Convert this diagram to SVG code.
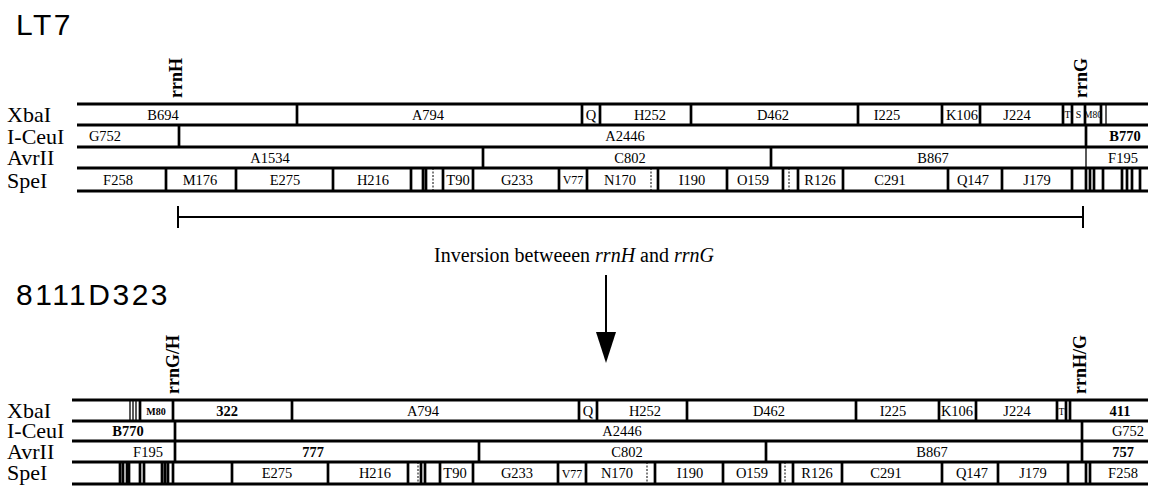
<svg xmlns="http://www.w3.org/2000/svg" width="1152" height="487" viewBox="0 0 1152 487">
<style>
.bg{fill:#fff}
.h{stroke:#000;stroke-width:3.2;fill:none}
.v{stroke:#000;stroke-width:2.7;fill:none}
.t{stroke:#000;stroke-width:1.3;fill:none}
.d{stroke:#000;stroke-width:1;fill:none;stroke-dasharray:2 1.5}
.lb{font-family:"Liberation Serif","Times New Roman",serif;font-size:14.5px;text-anchor:middle;fill:#000}
.sm{font-size:10px}
.xs{font-size:9.5px}
.b{font-weight:bold}
.rl{font-family:"Liberation Serif","Times New Roman",serif;font-size:22px;fill:#000}
.rrn{font-family:"Liberation Serif","Times New Roman",serif;font-size:18px;font-weight:bold;fill:#000}
.ttl{font-family:"Liberation Sans",Arial,sans-serif;font-size:30px;letter-spacing:2.5px;fill:#000}
.cap{font-family:"Liberation Serif","Times New Roman",serif;font-size:20px;text-anchor:middle;fill:#000}
</style>
<rect class="bg" x="0" y="0" width="1152" height="487"/>

<g id="title-LT7"><text class="ttl" x="16" y="35">LT7</text></g>
<g id="title-8111D323"><text class="ttl" x="16" y="305">8111D323</text></g>

<!-- Top map: LT7 -->
<g id="map-LT7">
  <g id="lt7-labels">
    <text class="rl" x="7" y="122">XbaI</text>
    <text class="rl" x="7" y="144">I-CeuI</text>
    <text class="rl" x="7" y="165">AvrII</text>
    <text class="rl" x="7" y="188">SpeI</text>
    <text class="rrn" transform="translate(182,98) rotate(-90)">rrnH</text>
    <text class="rrn" transform="translate(1087,98) rotate(-90)">rrnG</text>
  </g>
  <path class="h" d="M77 104H1148M77 125H1148M77 147H1148M77 168H1148M77 191H1148"/>
  <g id="lt7-xbai">
    <path class="v" d="M297 104V125M582 104V125M600 104V125M691 104V125M858 104V125M942 104V125M980 104V125M1063 104V125M1072 104V125M1085 104V125M1101 104V125"/>
    <path class="t" d="M1106 104V125"/>
    <text class="lb" x="163" y="119.5">B694</text>
    <text class="lb" x="428" y="119.5">A794</text>
    <text class="lb" x="591" y="119.5">Q</text>
    <text class="lb" x="650" y="119.5">H252</text>
    <text class="lb" x="773" y="119.5">D462</text>
    <text class="lb" x="887" y="119.5">I225</text>
    <text class="lb" x="962" y="119.5">K106</text>
    <text class="lb" x="1017" y="119.5">J224</text>
    <text class="lb sm" x="1067.5" y="118">T</text>
    <text class="lb sm" x="1078.5" y="118">S</text>
    <text class="lb xs" x="1093" y="118">M80</text>
  </g>
  <g id="lt7-iceui">
    <path class="v" d="M179 125V147M1086 125V147"/>
    <text class="lb" x="105" y="141">G752</text>
    <text class="lb" x="625" y="141">A2446</text>
    <text class="lb b" x="1125" y="141">B770</text>
  </g>
  <g id="lt7-avrii">
    <path class="v" d="M483 147V168M771 147V168"/>
    <path class="t" d="M1086 147V168"/>
    <text class="lb" x="270" y="162.5">A1534</text>
    <text class="lb" x="630" y="162.5">C802</text>
    <text class="lb" x="933" y="162.5">B867</text>
    <text class="lb" x="1123" y="162.5">F195</text>
  </g>
  <g id="lt7-spei">
    <path class="v" d="M166 168V191M236 168V191M333 168V191M411 168V191M423 168V191M426 168V191M443 168V191M473 168V191M559 168V191M587 168V191M658 168V191M727 168V191M783 168V191M798 168V191M843 168V191M948 168V191M1002 168V191M1072 168V191M1086 168V191M1090 168V191M1094 168V191M1103 168V191M1122 168V191M1127 168V191M1132 168V191M1140 168V191"/>
    <path class="d" d="M433 168V191M651 168V191M789 168V191"/>
    <text class="lb" x="118" y="184.5">F258</text>
    <text class="lb" x="200" y="184.5">M176</text>
    <text class="lb" x="285" y="184.5">E275</text>
    <text class="lb" x="373" y="184.5">H216</text>
    <text class="lb" x="458" y="184.5">T90</text>
    <text class="lb" x="517" y="184.5">G233</text>
    <text class="lb" x="573" y="184" style="font-size:12px">V77</text>
    <text class="lb" x="620" y="184.5">N170</text>
    <text class="lb" x="692" y="184.5">I190</text>
    <text class="lb" x="753" y="184.5">O159</text>
    <text class="lb" x="820" y="184.5">R126</text>
    <text class="lb" x="890" y="184.5">C291</text>
    <text class="lb" x="973" y="184.5">Q147</text>
    <text class="lb" x="1037" y="184.5">J179</text>
  </g>
</g>

<!-- Connectors: inversion bar and arrow -->
<g id="connectors">
  <path class="v" d="M178 217H1083" style="stroke-width:2"/>
  <path class="v" d="M178 206V228M1083 206V228" style="stroke-width:2"/>
  <path class="v" d="M606 275V336" style="stroke-width:2"/>
  <polygon points="596,332 616,332 606,363" fill="#000"/>
</g>
<g id="caption">
  <text class="cap" x="574" y="262">Inversion betweeen <tspan font-style="italic">rrnH</tspan> and <tspan font-style="italic">rrnG</tspan></text>
</g>

<!-- Bottom map: 8111D323 -->
<g id="map-8111D323">
  <g id="m8-labels">
    <text class="rl" x="7" y="418">XbaI</text>
    <text class="rl" x="7" y="438">I-CeuI</text>
    <text class="rl" x="7" y="459">AvrII</text>
    <text class="rl" x="7" y="480">SpeI</text>
    <text class="rrn" transform="translate(179,394) rotate(-90)">rrnG/H</text>
    <text class="rrn" transform="translate(1086,394) rotate(-90)">rrnH/G</text>
  </g>
  <path class="h" d="M72 400H1148M72 421H1148M72 441H1148M72 462H1148M72 484H1148"/>
  <g id="m8-xbai">
    <path class="t" d="M130 400V421M133 400V421M136 400V421"/>
    <path class="v" d="M140 400V421M173 400V421M292 400V421M579 400V421M597 400V421M687 400V421M856 400V421M939 400V421M976 400V421M1057 400V421M1066 400V421M1070 400V421"/>
    <text class="lb sm b" x="156" y="415">M80</text>
    <text class="lb b" x="227" y="415.5">322</text>
    <text class="lb" x="423" y="415.5">A794</text>
    <text class="lb" x="588" y="415.5">Q</text>
    <text class="lb" x="645" y="415.5">H252</text>
    <text class="lb" x="769" y="415.5">D462</text>
    <text class="lb" x="893" y="415.5">I225</text>
    <text class="lb" x="957" y="415.5">K106</text>
    <text class="lb" x="1017" y="415.5">J224</text>
    <text class="lb sm" x="1061.5" y="415">T</text>
    <text class="lb b" x="1120" y="415.5">411</text>
  </g>
  <g id="m8-iceui">
    <path class="v" d="M175 421V441M1082 421V441"/>
    <text class="lb b" x="128" y="436">B770</text>
    <text class="lb" x="622" y="436">A2446</text>
    <text class="lb" x="1128" y="436">G752</text>
  </g>
  <g id="m8-avrii">
    <path class="v" d="M175 441V462M479 441V462M766 441V462M1082 441V462"/>
    <text class="lb" x="148" y="456.5">F195</text>
    <text class="lb b" x="313" y="456.5">777</text>
    <text class="lb" x="627" y="456.5">C802</text>
    <text class="lb" x="932" y="456.5">B867</text>
    <text class="lb b" x="1123" y="456.5">757</text>
  </g>
  <g id="m8-spei">
    <path class="v" d="M120 462V484M123 462V484M127 462V484M129 462V484M140 462V484M144 462V484M162 462V484M165 462V484M168 462V484M173 462V484M232 462V484M328 462V484M408 462V484M421 462V484M425 462V484M440 462V484M473 462V484M558 462V484M586 462V484M655 462V484M723 462V484M780 462V484M793 462V484M842 462V484M942 462V484M998 462V484M1068 462V484M1086 462V484M1090 462V484"/>
    <path class="d" d="M418 462V484M647 462V484M785 462V484"/>
    <text class="lb" x="277" y="478">E275</text>
    <text class="lb" x="375" y="478">H216</text>
    <text class="lb" x="455" y="478">T90</text>
    <text class="lb" x="517" y="478">G233</text>
    <text class="lb" x="572" y="477.5" style="font-size:12px">V77</text>
    <text class="lb" x="617" y="478">N170</text>
    <text class="lb" x="690" y="478">I190</text>
    <text class="lb" x="752" y="478">O159</text>
    <text class="lb" x="817" y="478">R126</text>
    <text class="lb" x="886" y="478">C291</text>
    <text class="lb" x="972" y="478">Q147</text>
    <text class="lb" x="1033" y="478">J179</text>
    <text class="lb" x="1123" y="478">F258</text>
  </g>
</g>
</svg>
